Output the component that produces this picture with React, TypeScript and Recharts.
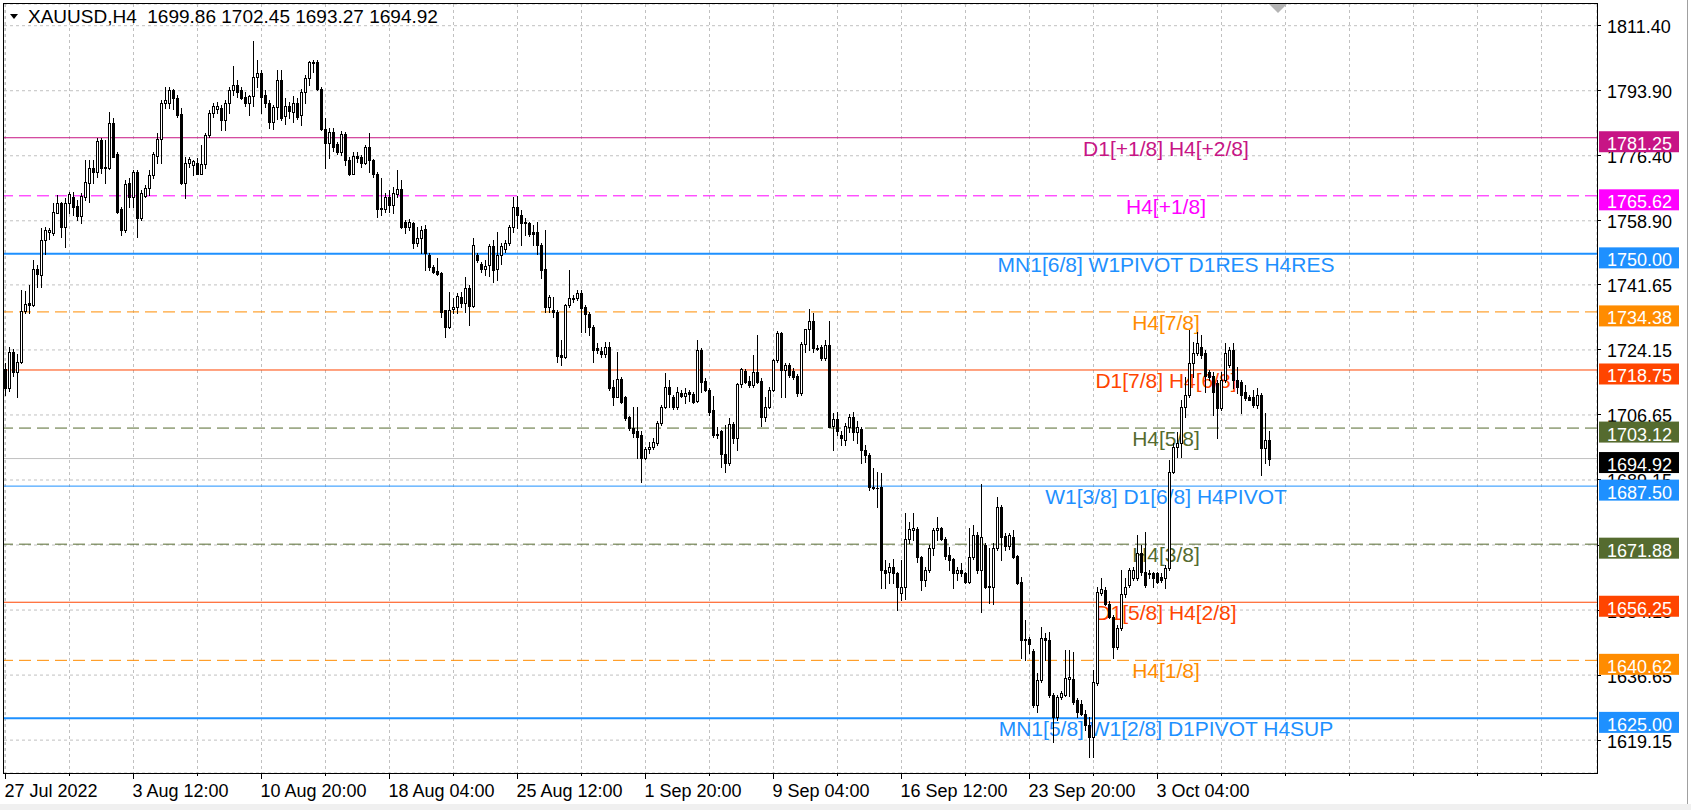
import React from 'react';
import { ComposedChart, Bar, XAxis, YAxis, CartesianGrid, ReferenceLine } from 'recharts';

const FONT = '"Liberation Sans", Arial, sans-serif';

// XAUUSD H4 bars, 27 Jul 2022 04:00 .. 7 Oct 2022 20:00
const opens = [
  1719.0, 1714.0, 1723.5, 1718.3, 1721.0, 1734.5, 1736.8, 1736.3, 1745.8, 1744.3,
  1753.7, 1756.0, 1755.5, 1761.1, 1763.8, 1757.3, 1763.6, 1765.4, 1762.9, 1760.2,
  1765.4, 1769.0, 1773.0, 1772.1, 1780.6, 1773.4, 1773.0, 1785.1, 1777.0, 1762.2,
  1756.4, 1769.0, 1765.4, 1772.1, 1759.6, 1765.6, 1767.6, 1771.2, 1776.3, 1780.8,
  1790.5, 1790.7, 1794.1, 1791.9, 1787.6, 1769.0, 1774.4, 1774.0, 1774.5, 1771.6,
  1774.2, 1782.0, 1787.8, 1789.0, 1789.2, 1786.0, 1790.5, 1794.1, 1795.4, 1794.0,
  1792.3, 1790.5, 1792.5, 1797.7, 1798.6, 1792.7, 1790.5, 1785.6, 1789.4, 1796.8,
  1787.0, 1789.7, 1788.3, 1790.7, 1787.4, 1793.6, 1797.2, 1801.7, 1801.7, 1794.5,
  1783.5, 1779.9, 1782.9, 1779.7, 1777.5, 1782.2, 1775.3, 1771.6, 1776.3, 1776.1,
  1774.5, 1778.8, 1775.3, 1771.6, 1762.4, 1762.2, 1765.4, 1763.1, 1766.1, 1767.4,
  1758.6, 1757.1, 1758.2, 1753.0, 1754.2, 1756.6, 1749.7, 1746.5, 1745.4, 1744.8,
  1734.9, 1730.4, 1735.1, 1735.8, 1738.5, 1736.9, 1740.7, 1736.0, 1749.7, 1747.4,
  1745.8, 1747.0, 1752.1, 1745.8, 1749.7, 1751.2, 1752.8, 1757.3, 1762.7, 1760.5,
  1758.6, 1758.4, 1755.8, 1756.0, 1752.4, 1745.8, 1735.8, 1735.0, 1734.4, 1722.7,
  1722.2, 1736.2, 1738.1, 1738.0, 1739.5, 1735.8, 1733.8, 1730.4, 1724.6, 1723.8,
  1723.0, 1724.9, 1714.1, 1711.6, 1716.2, 1711.4, 1706.0, 1703.1, 1702.2, 1701.3,
  1695.0, 1697.4, 1697.9, 1699.2, 1704.4, 1708.7, 1714.1, 1711.4, 1708.9, 1712.6,
  1711.8, 1712.9, 1712.3, 1710.5, 1724.1, 1715.9, 1713.4, 1708.0, 1701.5, 1702.2,
  1696.1, 1693.6, 1704.2, 1700.4, 1715.0, 1718.6, 1715.9, 1714.7, 1718.3, 1715.9,
  1706.0, 1708.7, 1713.5, 1721.4, 1728.8, 1718.8, 1720.1, 1718.6, 1717.1, 1712.5,
  1725.8, 1729.7, 1732.0, 1724.8, 1725.0, 1721.9, 1725.5, 1703.7, 1705.5, 1701.3,
  1700.0, 1703.5, 1706.2, 1702.0, 1703.0, 1697.2, 1695.9, 1687.3, 1687.0, 1687.3,
  1664.9, 1664.5, 1665.8, 1664.2, 1658.8, 1660.3, 1673.2, 1675.6, 1675.9, 1668.3,
  1662.2, 1664.9, 1670.8, 1675.7, 1676.1, 1673.4, 1668.9, 1667.8, 1664.0, 1664.9,
  1664.0, 1661.8, 1668.5, 1674.3, 1664.9, 1671.7, 1660.6, 1660.4, 1670.8, 1682.0,
  1674.1, 1671.4, 1673.9, 1668.7, 1661.8, 1646.3, 1646.3, 1643.2, 1628.6, 1635.3,
  1646.5, 1646.1, 1631.3, 1625.5, 1630.8, 1631.3, 1635.5, 1635.5, 1629.9, 1629.0,
  1626.3, 1623.2, 1620.1, 1634.4, 1658.8, 1659.5, 1655.8, 1652.4, 1644.3, 1649.2,
  1658.6, 1660.9, 1662.7, 1662.7, 1669.4, 1664.5, 1663.8, 1664.0, 1664.2, 1663.0,
  1662.7, 1665.4, 1691.4, 1698.1, 1699.0, 1708.9, 1712.0, 1720.5, 1723.2, 1725.0,
  1723.2, 1718.3, 1717.0, 1715.2, 1708.4, 1716.1, 1720.1, 1724.1, 1716.1, 1715.6,
  1712.9, 1711.6, 1711.6, 1709.3, 1712.0, 1697.7, 1699.86,
];
const highs = [
  1720.5, 1725.0, 1724.5, 1723.0, 1740.3, 1740.0, 1741.6, 1748.3, 1747.0, 1756.9,
  1757.3, 1756.9, 1763.8, 1765.8, 1764.0, 1765.0, 1766.7, 1766.7, 1764.5, 1766.3,
  1775.3, 1775.3, 1775.3, 1781.1, 1781.1, 1780.6, 1788.2, 1786.5, 1777.5, 1762.5,
  1770.0, 1770.3, 1772.5, 1772.5, 1767.2, 1768.5, 1772.5, 1777.5, 1782.4, 1791.4,
  1795.0, 1795.0, 1794.5, 1792.8, 1789.2, 1776.1, 1776.1, 1775.3, 1775.7, 1779.3,
  1782.4, 1788.7, 1790.5, 1791.0, 1790.0, 1791.4, 1795.0, 1800.5, 1796.8, 1795.0,
  1793.6, 1792.8, 1807.4, 1802.3, 1799.5, 1794.0, 1791.4, 1790.0, 1799.5, 1799.5,
  1792.0, 1790.9, 1792.5, 1791.9, 1794.5, 1798.1, 1802.0, 1802.2, 1802.2, 1795.0,
  1786.5, 1783.8, 1784.0, 1780.2, 1783.1, 1782.8, 1776.2, 1777.5, 1777.5, 1776.6,
  1779.3, 1782.6, 1775.5, 1772.1, 1770.3, 1766.3, 1767.2, 1768.1, 1772.5, 1770.0,
  1759.0, 1759.3, 1758.6, 1757.3, 1757.5, 1757.9, 1750.2, 1747.0, 1749.0, 1745.0,
  1735.0, 1739.8, 1738.0, 1739.4, 1739.8, 1743.9, 1741.6, 1754.2, 1750.2, 1747.9,
  1748.3, 1752.7, 1753.7, 1756.0, 1752.8, 1753.7, 1757.8, 1765.2, 1765.6, 1761.8,
  1759.6, 1758.7, 1757.7, 1758.7, 1752.8, 1756.4, 1738.9, 1738.5, 1734.9, 1726.8,
  1736.5, 1745.6, 1738.8, 1740.2, 1740.2, 1736.2, 1734.4, 1730.9, 1726.1, 1725.0,
  1726.4, 1726.4, 1716.0, 1723.7, 1716.8, 1711.8, 1706.4, 1708.9, 1708.9, 1702.2,
  1698.1, 1699.4, 1700.4, 1704.9, 1709.3, 1717.9, 1716.0, 1712.0, 1714.3, 1713.4,
  1713.8, 1713.5, 1712.7, 1726.8, 1724.6, 1716.5, 1713.8, 1711.8, 1703.5, 1702.5,
  1704.0, 1705.7, 1704.8, 1715.3, 1719.2, 1719.0, 1717.1, 1722.8, 1728.2, 1716.5,
  1711.6, 1714.3, 1721.8, 1729.3, 1729.1, 1720.5, 1720.5, 1719.2, 1717.8, 1726.4,
  1729.9, 1735.1, 1734.2, 1725.5, 1725.5, 1726.8, 1731.8, 1707.3, 1707.5, 1702.2,
  1704.4, 1707.0, 1707.5, 1705.0, 1703.5, 1698.5, 1696.3, 1692.3, 1691.4, 1690.9,
  1667.6, 1666.7, 1668.0, 1664.5, 1667.6, 1680.2, 1677.9, 1680.2, 1676.4, 1668.7,
  1665.8, 1671.7, 1676.1, 1679.3, 1676.6, 1673.9, 1671.2, 1668.1, 1665.8, 1666.7,
  1664.5, 1676.1, 1677.0, 1675.2, 1688.2, 1672.1, 1670.8, 1672.1, 1684.7, 1682.4,
  1674.8, 1675.0, 1675.7, 1669.0, 1663.1, 1651.5, 1647.0, 1643.8, 1637.1, 1649.7,
  1647.9, 1648.3, 1631.8, 1631.3, 1632.5, 1643.4, 1643.4, 1642.9, 1630.4, 1630.0,
  1627.2, 1625.5, 1638.0, 1660.4, 1662.7, 1660.4, 1656.5, 1652.8, 1650.1, 1664.9,
  1662.7, 1665.4, 1665.8, 1674.3, 1671.7, 1675.2, 1664.9, 1664.5, 1664.5, 1664.0,
  1666.3, 1694.5, 1699.0, 1702.0, 1710.7, 1716.9, 1729.5, 1726.4, 1728.9, 1728.2,
  1724.1, 1718.8, 1718.3, 1716.1, 1718.3, 1725.9, 1725.0, 1725.9, 1719.6, 1716.1,
  1714.7, 1712.0, 1713.4, 1713.8, 1712.5, 1707.1, 1702.45,
];
const lows = [
  1712.0, 1713.0, 1717.0, 1711.6, 1720.5, 1734.0, 1734.0, 1736.0, 1741.0, 1741.0,
  1750.0, 1754.0, 1755.0, 1761.0, 1754.6, 1751.9, 1760.9, 1760.4, 1759.1, 1758.4,
  1764.5, 1764.0, 1769.0, 1770.8, 1771.7, 1769.0, 1772.8, 1776.0, 1760.9, 1755.1,
  1756.0, 1762.7, 1762.7, 1754.6, 1759.0, 1765.3, 1765.8, 1770.5, 1774.4, 1774.4,
  1789.2, 1789.2, 1788.9, 1786.9, 1768.8, 1764.9, 1773.5, 1771.2, 1771.4, 1771.5,
  1773.0, 1781.5, 1786.9, 1788.0, 1783.3, 1783.3, 1787.8, 1792.8, 1792.3, 1791.8,
  1789.8, 1787.4, 1789.8, 1795.0, 1788.0, 1789.4, 1784.0, 1783.5, 1786.2, 1786.0,
  1785.0, 1786.5, 1785.6, 1786.4, 1784.7, 1790.5, 1795.5, 1799.0, 1794.1, 1783.3,
  1773.0, 1775.7, 1777.8, 1777.0, 1776.6, 1773.9, 1771.2, 1771.4, 1774.8, 1773.5,
  1774.2, 1772.1, 1770.8, 1760.0, 1760.5, 1761.3, 1761.3, 1760.9, 1765.4, 1756.9,
  1755.5, 1756.4, 1751.5, 1752.0, 1750.1, 1745.6, 1745.6, 1744.8, 1744.3, 1733.1,
  1727.7, 1730.0, 1734.0, 1734.2, 1735.8, 1734.4, 1730.9, 1735.8, 1747.9, 1745.2,
  1744.3, 1744.0, 1742.5, 1743.0, 1747.4, 1750.6, 1752.4, 1756.0, 1756.9, 1752.4,
  1755.1, 1754.8, 1752.4, 1750.0, 1743.4, 1734.4, 1734.4, 1733.1, 1721.0, 1720.1,
  1721.9, 1735.8, 1737.1, 1737.6, 1729.1, 1729.1, 1728.2, 1721.0, 1723.2, 1722.3,
  1722.3, 1713.4, 1709.3, 1711.4, 1710.0, 1705.4, 1702.6, 1700.6, 1695.0, 1688.7,
  1694.7, 1696.3, 1697.4, 1698.6, 1703.9, 1708.4, 1708.9, 1708.2, 1708.2, 1711.4,
  1709.8, 1710.3, 1709.8, 1710.2, 1712.9, 1713.0, 1706.6, 1700.8, 1700.4, 1692.7,
  1691.2, 1693.2, 1699.0, 1697.2, 1714.3, 1715.2, 1714.3, 1714.3, 1715.2, 1703.7,
  1705.1, 1708.4, 1713.2, 1721.0, 1711.6, 1711.4, 1716.8, 1716.2, 1711.8, 1712.0,
  1723.7, 1724.0, 1723.7, 1724.0, 1721.4, 1721.4, 1703.3, 1697.2, 1701.3, 1698.6,
  1698.6, 1702.0, 1700.0, 1699.0, 1693.6, 1694.0, 1686.4, 1686.6, 1682.0, 1660.0,
  1660.0, 1661.3, 1661.3, 1654.2, 1656.8, 1657.0, 1672.1, 1673.0, 1667.2, 1659.5,
  1660.6, 1664.5, 1669.0, 1673.0, 1673.0, 1668.0, 1664.9, 1660.0, 1662.2, 1663.3,
  1661.3, 1661.3, 1668.0, 1664.2, 1653.7, 1660.0, 1656.0, 1655.8, 1670.3, 1667.6,
  1670.3, 1670.7, 1668.1, 1661.1, 1641.2, 1640.7, 1642.5, 1628.1, 1626.8, 1634.9,
  1640.7, 1630.8, 1618.7, 1624.6, 1630.2, 1630.9, 1631.0, 1629.0, 1625.5, 1625.8,
  1621.9, 1614.7, 1614.7, 1634.0, 1658.2, 1655.5, 1652.0, 1641.2, 1643.8, 1648.8,
  1657.7, 1660.4, 1662.2, 1662.2, 1663.6, 1660.4, 1662.7, 1660.4, 1661.5, 1661.8,
  1660.0, 1665.0, 1690.9, 1695.4, 1695.4, 1706.2, 1711.6, 1716.9, 1722.8, 1721.9,
  1712.9, 1716.0, 1706.6, 1700.4, 1707.9, 1715.6, 1719.6, 1713.8, 1712.5, 1707.1,
  1710.7, 1710.7, 1708.9, 1708.4, 1690.5, 1693.6, 1693.27,
];
const closes = [
  1714.0, 1723.5, 1718.3, 1721.0, 1734.7, 1736.6, 1736.2, 1745.8, 1744.5, 1753.7,
  1756.4, 1756.5, 1761.3, 1763.8, 1757.3, 1763.8, 1766.1, 1762.7, 1760.2, 1765.6,
  1769.4, 1773.0, 1772.1, 1780.5, 1773.0, 1773.0, 1785.1, 1776.1, 1761.3, 1756.4,
  1768.9, 1765.4, 1772.1, 1759.6, 1766.3, 1767.6, 1771.2, 1776.9, 1780.8, 1790.7,
  1791.4, 1794.1, 1791.9, 1787.4, 1769.0, 1774.4, 1775.4, 1775.0, 1771.6, 1774.2,
  1782.0, 1787.8, 1789.8, 1789.8, 1786.0, 1790.7, 1794.1, 1795.4, 1793.6, 1792.0,
  1790.5, 1792.5, 1797.7, 1798.6, 1792.1, 1790.5, 1785.6, 1789.4, 1796.8, 1786.5,
  1789.7, 1788.4, 1790.7, 1786.9, 1793.6, 1797.2, 1801.7, 1801.3, 1794.5, 1783.5,
  1779.9, 1782.9, 1778.8, 1777.5, 1782.2, 1775.3, 1771.5, 1776.3, 1775.9, 1774.5,
  1778.8, 1775.3, 1771.6, 1762.2, 1762.2, 1765.4, 1763.1, 1766.3, 1767.4, 1757.1,
  1757.1, 1758.6, 1753.0, 1754.2, 1756.4, 1750.1, 1746.5, 1745.2, 1744.6, 1734.4,
  1730.4, 1734.9, 1735.8, 1738.7, 1736.9, 1740.7, 1736.0, 1752.4, 1748.3, 1745.8,
  1746.7, 1752.1, 1745.7, 1749.7, 1752.1, 1753.0, 1757.3, 1762.7, 1760.5, 1758.2,
  1758.2, 1755.4, 1755.4, 1752.4, 1745.7, 1735.8, 1738.5, 1734.4, 1722.5, 1722.2,
  1736.2, 1738.0, 1737.9, 1739.5, 1735.3, 1733.8, 1730.4, 1724.0, 1724.0, 1723.0,
  1724.9, 1713.8, 1711.6, 1716.2, 1710.2, 1705.7, 1703.1, 1701.9, 1700.8, 1695.0,
  1697.4, 1698.1, 1699.5, 1704.4, 1708.7, 1714.1, 1712.3, 1708.7, 1712.9, 1711.8,
  1712.6, 1712.3, 1710.2, 1724.1, 1715.6, 1713.4, 1707.5, 1701.3, 1701.2, 1696.1,
  1693.6, 1704.2, 1700.4, 1715.0, 1718.9, 1715.6, 1714.7, 1718.3, 1715.6, 1706.0,
  1708.9, 1713.5, 1721.4, 1728.8, 1718.8, 1720.1, 1717.4, 1716.8, 1712.5, 1725.8,
  1729.7, 1732.0, 1724.8, 1724.5, 1721.9, 1725.5, 1703.5, 1705.5, 1702.2, 1700.4,
  1703.7, 1706.2, 1702.0, 1703.5, 1697.2, 1695.9, 1687.3, 1686.9, 1686.9, 1664.9,
  1664.0, 1665.8, 1664.0, 1660.4, 1660.4, 1673.2, 1675.9, 1676.2, 1668.3, 1662.2,
  1664.9, 1670.8, 1675.7, 1676.1, 1673.2, 1668.7, 1667.6, 1664.0, 1664.9, 1664.0,
  1661.8, 1668.5, 1674.3, 1664.9, 1673.9, 1660.4, 1660.4, 1670.8, 1682.0, 1673.9,
  1671.4, 1674.3, 1668.5, 1661.3, 1646.1, 1646.0, 1645.0, 1628.6, 1635.3, 1646.5,
  1646.1, 1631.3, 1625.5, 1630.8, 1631.7, 1635.8, 1636.1, 1629.5, 1626.8, 1626.3,
  1623.2, 1620.1, 1634.9, 1659.1, 1659.7, 1655.8, 1652.4, 1644.3, 1649.2, 1658.6,
  1660.4, 1664.9, 1665.0, 1669.4, 1664.5, 1660.9, 1664.2, 1662.7, 1661.8, 1662.2,
  1665.4, 1691.4, 1698.1, 1699.0, 1708.9, 1712.0, 1720.5, 1723.2, 1725.9, 1722.8,
  1717.0, 1716.9, 1712.9, 1708.4, 1716.1, 1723.2, 1724.1, 1716.1, 1714.3, 1712.0,
  1711.1, 1710.7, 1709.3, 1712.0, 1697.7, 1699.9, 1694.92,
];

const timeLabels = [
  '27 Jul 2022', '3 Aug 12:00', '10 Aug 20:00', '18 Aug 04:00', '25 Aug 12:00',
  '1 Sep 20:00', '9 Sep 04:00', '16 Sep 12:00', '23 Sep 20:00', '3 Oct 04:00',
];
const priceTicks = [
  1811.4, 1793.9, 1776.4, 1758.9, 1741.65, 1724.15, 1706.65, 1689.15, 1671.65, 1654.15, 1636.65, 1619.15,
];

// murrey math levels
const levelPrices = [1781.25, 1765.62, 1750.0, 1734.38, 1718.75, 1703.12, 1687.5, 1671.88, 1656.25, 1640.62, 1625.0];
const levelNames = [
  'D1[+1/8] H4[+2/8]', 'H4[+1/8]', 'MN1[6/8] W1PIVOT D1RES H4RES', 'H4[7/8]', 'D1[7/8] H4[6/8]',
  'H4[5/8]', 'W1[3/8] D1[6/8] H4PIVOT', 'H4[3/8]', 'D1[5/8] H4[2/8]', 'H4[1/8]', 'MN1[5/8] W1[2/8] D1PIVOT H4SUP',
];
const levelColors = ['#C71585', '#FF00FF', '#1E90FF', '#FF8C00', '#FF4500', '#556B2F', '#1E90FF', '#556B2F', '#FF4500', '#FF8C00', '#1E90FF'];
const levelDashed = [false, true, false, true, false, true, false, true, false, true, false];
const levelWidths = [1, 1, 2, 1, 1, 1, 1, 1, 1, 1, 2];

const data = opens.map((o, i) => ({
  i,
  o,
  h: highs[i],
  l: lows[i],
  c: closes[i],
  range: [lows[i], highs[i]],
}));
const last = data[data.length - 1];

const X_DOMAIN = [-0.375, 397.875];
const Y_DOMAIN = [1610.3, 1817.24];
const MARGIN_BASE = { top: 4, right: 0, bottom: 0, left: 4 };
const MARGIN_TOP = { top: 4, right: 94, bottom: 37, left: 4 };

const Candle = (props: any) => {
  const { x, y, width, height, payload } = props;
  if (x == null || !payload) return null;
  const { o, h, l, c } = payload;
  const top = Math.min(y, y + height);
  const k = h > l ? Math.abs(height) / (h - l) : 0;
  const py = (p: number) => top + (h - p) * k;
  const cx = Math.round(x + width / 2 - 0.5) + 0.5;
  const yH = Math.round(py(h));
  const yL = Math.round(py(l));
  const bTop = Math.round(py(Math.max(o, c)));
  const bBot = Math.round(py(Math.min(o, c)));
  let body;
  if (bBot - bTop < 1) {
    body = <line x1={cx - 1.5} x2={cx + 1.5} y1={bTop + 0.5} y2={bTop + 0.5} stroke="#000" />;
  } else if (c >= o) {
    body = <rect x={cx - 1} y={bTop + 0.5} width={2} height={bBot - bTop} fill="#fff" stroke="#000" />;
  } else {
    body = <rect x={cx - 1.5} y={bTop} width={3} height={bBot - bTop + 1} fill="#000" />;
  }
  return (
    <g>
      <line x1={cx} x2={cx} y1={yH} y2={yL + 1} stroke="#000" />
      {body}
    </g>
  );
};

const TimeTick = (props: any) => {
  const { x, y, payload } = props;
  const k = payload.value / 32;
  const label = Number.isInteger(k) && k < timeLabels.length ? timeLabels[k] : '';
  const px = Math.round(x - 0.5) + 0.5;
  return (
    <g>
      <line x1={px} x2={px} y1={y} y2={y + (label ? 6 : 3)} stroke="#000" />
      {label && (
        <text x={x - 1} y={y + 24} fontSize={18} fontFamily={FONT} fill="#000">
          {label}
        </text>
      )}
    </g>
  );
};

const PriceTick = (props: any) => {
  const { x, y, payload } = props;
  const py = Math.round(y - 0.5) + 0.5;
  return (
    <g>
      <line x1={x + 1} x2={x + 4} y1={py} y2={py} stroke="#000" />
      <text x={x + 10} y={y + 7.5} fontSize={18} fontFamily={FONT} fill="#000">
        {payload.value.toFixed(2)}
      </text>
    </g>
  );
};

const levelText = (idx: number) => (props: any) => {
  const vb = props.viewBox;
  if (!vb) return null;
  return (
    <text x={vb.x + 1162} y={vb.y + 18} textAnchor="middle" fontSize={21} fontFamily={FONT} fill={levelColors[idx]}>
      {levelNames[idx]}
    </text>
  );
};

// MT4 price tag: sits slightly below its line
const priceBox = (value: number, color: string) => (props: any) => {
  const vb = props.viewBox;
  if (!vb) return null;
  const left = vb.x + vb.width + 2;
  return (
    <g>
      <rect x={left} y={vb.y - 6.5} width={80} height={21} fill={color} />
      <text x={left + 8} y={vb.y + 12.5} fontSize={18} fontFamily={FONT} fill="#fff">
        {value.toFixed(2)}
      </text>
    </g>
  );
};

const xTicks = Array.from({ length: 25 }, (_, k) => k * 16);

export default function App() {
  return (
    <div style={{ position: 'absolute', left: 0, top: 0, width: 1691, height: 810, background: '#fff', overflow: 'hidden' }}>
      <div style={{ position: 'absolute', left: 0, top: 0 }}>
        <ComposedChart width={1691} height={810} data={data} margin={MARGIN_BASE}>
          <CartesianGrid stroke="#c0c0c0" strokeDasharray="3 3" />
          <XAxis
            type="number"
            dataKey="i"
            domain={X_DOMAIN}
            allowDataOverflow
            ticks={xTicks}
            interval={0}
            height={37}
            axisLine={false}
            tickLine={false}
            tickSize={0}
            tickMargin={0}
            tick={<TimeTick />}
          />
          <YAxis
            orientation="right"
            domain={Y_DOMAIN}
            allowDataOverflow
            ticks={priceTicks}
            interval={0}
            width={94}
            axisLine={false}
            tickLine={false}
            tickSize={0}
            tickMargin={0}
            tick={<PriceTick />}
          />
          <ReferenceLine y={last.c} stroke="#c0c0c0" strokeWidth={1} />
          {levelPrices.map((p, idx) => (
            <ReferenceLine
              key={p}
              y={p}
              stroke={levelColors[idx]}
              strokeWidth={levelWidths[idx]}
              strokeDasharray={levelDashed[idx] ? '12 6' : undefined}
              label={levelText(idx)}
            />
          ))}
        </ComposedChart>
      </div>
      <div style={{ position: 'absolute', left: 0, top: 0 }}>
        <ComposedChart width={1691} height={810} data={data} margin={MARGIN_TOP}>
          <XAxis type="number" dataKey="i" domain={X_DOMAIN} allowDataOverflow hide />
          <YAxis orientation="right" domain={Y_DOMAIN} allowDataOverflow hide />
          <Bar dataKey="range" shape={<Candle />} barSize={3} isAnimationActive={false} />
          {levelPrices.map((p, idx) => (
            <ReferenceLine key={p} y={p} stroke="none" label={priceBox(p, levelColors[idx])} />
          ))}
          <ReferenceLine y={last.c} stroke="none" label={priceBox(last.c, '#000')} />
        </ComposedChart>
      </div>
      <div
        style={{
          position: 'absolute',
          left: 3,
          top: 3,
          width: 1595,
          height: 771,
          boxSizing: 'border-box',
          border: '1px solid #000',
          pointerEvents: 'none',
        }}
      />
      <div style={{ position: 'absolute', left: 1687, top: 0, width: 1, height: 804, background: '#a0a0a0' }} />
      <svg style={{ position: 'absolute', left: 0, top: 0 }} width={1691} height={30}>
        <polygon points="1269,4 1287,4 1278,13" fill="#b4b4b4" />
        <polygon points="10,14 18,14 14,19" fill="#000" />
      </svg>
      <div
        style={{
          position: 'absolute',
          left: 28,
          top: 6,
          fontFamily: FONT,
          fontSize: 19,
          lineHeight: '22px',
          whiteSpace: 'pre',
          color: '#000',
        }}
      >
        {`XAUUSD,H4  ${last.o.toFixed(2)} ${last.h.toFixed(2)} ${last.l.toFixed(2)} ${last.c.toFixed(2)}`}
      </div>
      <div style={{ position: 'absolute', left: 0, top: 804, width: 1691, height: 6, background: '#f0f0f0' }} />
    </div>
  );
}
